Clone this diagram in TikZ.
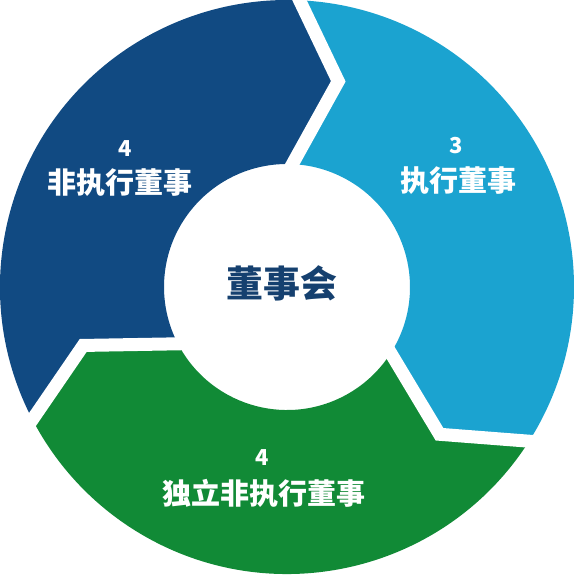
\documentclass[tikz,border=0pt]{standalone}
\usepackage{fontspec}
\newfontfamily\cjk{Noto Sans CJK SC}
\usetikzlibrary{calc}
\definecolor{segdark}{HTML}{114A82}
\definecolor{seglight}{HTML}{1BA3D0}
\definecolor{seggreen}{HTML}{118A36}
\definecolor{hubtext}{HTML}{15406F}
\begin{document}
\begin{tikzpicture}[>=latex,scale=1,
        num/.style={text=white,inner sep=0pt,font=\cjk\bfseries\fontsize{12.5}{14}\selectfont},
        lbl/.style={text=white,inner sep=0pt,font=\cjk\bfseries\fontsize{16.5}{19}\selectfont},
        gap/.style={draw=white,line width=0.26cm,miter limit=10}]
                \useasboundingbox(-5.74,-5.74)rectangle(5.76,5.74);
                \def\Ro{5.74}\def\Ri{2.46}\def\Rt{4.24}
                % ring of three arrows
                \fill[segdark](207.5:\Ro)arc(207.5:87.5:\Ro)--(76:\Rt)--(87.5:\Ri)arc(87.5:207.5:\Ri)--(196:\Rt)--cycle;
                \fill[seglight](87.5:\Ro)arc(87.5:-32.5:\Ro)--(-44:\Rt)--(-32.5:\Ri)arc(-32.5:87.5:\Ri)--(76:\Rt)--cycle;
                \fill[seggreen](-32.5:\Ro)arc(-32.5:-152.5:\Ro)--(-164:\Rt)--(-152.5:\Ri)arc(-152.5:-32.5:\Ri)--(-44:\Rt)--cycle;
                % white gaps
                \foreach \a in {87.5,-32.5,207.5}
                    \draw[gap]($(\a-11.5:\Rt)!1.3!(\a:\Ri)$)--(\a-11.5:\Rt)--($(\a-11.5:\Rt)!1.3!(\a:\Ro)$);
                \node[num](darknum) at (-3.23,2.76){4};
                \node[lbl](darklbl) at (-3.34,2.08){非执行董事};
                \node[num](lightnum) at (3.39,2.83){3};
                \node[lbl](lightlbl) at (3.43,2.12){执行董事};
                \node[num](greennum) at (-0.5,-3.41){4};
                \node[lbl](greenlbl) at (-0.46,-4.12){独立非执行董事};
                \node[text=hubtext,inner sep=0pt,font=\cjk\bfseries\fontsize{21}{24}\selectfont](hub) at (-0.1,0.08){董事会};
            \end{tikzpicture}
\end{document}
